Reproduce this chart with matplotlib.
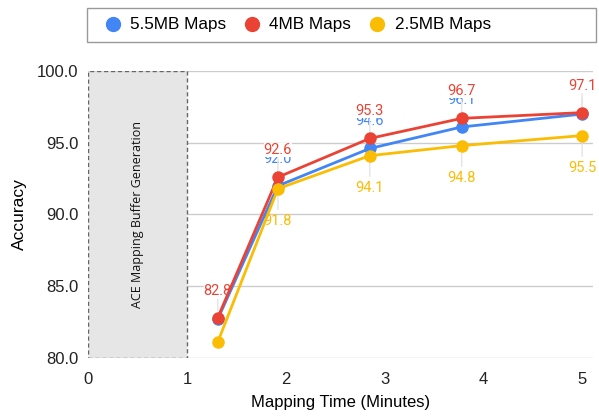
import matplotlib
matplotlib.use('Agg')
import matplotlib.pyplot as plt
from matplotlib.patches import Rectangle

plt.rcParams['font.family'] = ['Liberation Sans', 'DejaVu Sans']

# data
times = [1.31, 1.92, 2.85, 3.78, 5.0]
acc_55 = [82.7, 92.0, 94.6, 96.1, 97.0]
acc_4 = [82.8, 92.6, 95.3, 96.7, 97.1]
acc_25 = [81.1, 91.8, 94.1, 94.8, 95.5]
series_names = ['5.5MB Maps', '4MB Maps', '2.5MB Maps']
# which points carry a value label
show_55 = [False, True, True, True, True]
show_4 = [True, True, True, True, True]
show_25 = [False, True, True, True, True]

colors = ['#4285F4', '#EA4335', '#FBBC04']

fig = plt.figure(figsize=(5.99, 4.16), dpi=100)
ax = fig.add_axes([88.3 / 599, 1 - 358 / 416, (593 - 88.3) / 599, (358 - 71) / 416])

# buffer generation box
ax.add_patch(Rectangle((0, 80), 1, 20, fc='#e6e6e6', ec='#666666', ls=(0, (3, 2)), lw=1, zorder=1))
ax.text(0.5, 90, 'ACE Mapping Buffer Generation', rotation=90, ha='center', va='center',
        fontsize=9, family='Open Sans', color='#111111', zorder=2)

series = [(acc_55, show_55, 'above'), (acc_4, show_4, 'above'), (acc_25, show_25, 'below')]

for (vals, show, where), name, c in zip(series, series_names, colors):
    ax.plot(times, vals, color=c, lw=2, marker='o', ms=8, label=name, zorder=4)

# value labels with thin leader lines (blue first, so red sits on top)
for (vals, show, where), c in zip(series, colors):
    for x, y, s in zip(times, vals, show):
        if not s:
            continue
        if where == 'above':
            dy, rel = 19.5, (0.5, 0.0)
        else:
            dy, rel = -23, (0.5, 1.0)
        bb = dict(boxstyle='square,pad=0', fc='white', ec='none') if c == colors[1] else None
        ax.annotate('%.1f' % y, (x, y), xytext=(0, dy), textcoords='offset points',
                    ha='center', va='center', fontsize=10.5, family='Roboto', color=c, bbox=bb,
                    arrowprops=dict(arrowstyle='-', color='#e4e4e4', lw=1, relpos=rel,
                                    shrinkA=1, shrinkB=5),
                    zorder=3, annotation_clip=False)

ax.set_xlim(0, 5.11)
ax.set_ylim(80, 100)
ax.set_xticks([0, 1, 2, 3, 4, 5])
ax.set_yticks([80, 85, 90, 95, 100])
ax.set_yticklabels(['%.1f' % v for v in [80, 85, 90, 95, 100]])
ax.yaxis.grid(True, color='#cccccc', lw=1)
ax.set_axisbelow(True)
for sp in ax.spines.values():
    sp.set_visible(False)
ax.tick_params(length=0, labelsize=12, colors='#222222')
ax.tick_params(axis='x', pad=10)
ax.tick_params(axis='y', pad=7)
ax.set_xlabel('Mapping Time (Minutes)', fontsize=12, labelpad=6)
ax.set_ylabel('Accuracy', fontsize=12.5, labelpad=7)

# legend with square frame
fig.patches.append(Rectangle((87 / 599, 1 - 42 / 416), 509 / 599, 34 / 416, transform=fig.transFigure,
                             fc='white', ec='#999999', lw=1))
handles = [plt.Line2D([], [], ls='', marker='o', ms=10, color=c) for c in colors]
fig.legend(handles, series_names, loc='center left', bbox_to_anchor=(104 / 599, 1 - 25 / 416),
           ncol=3, frameon=False, fontsize=12.3, handletextpad=0.53, columnspacing=1.0,
           handlelength=1.0, borderpad=0, borderaxespad=0)

fig.savefig('out.png', dpi=100)
